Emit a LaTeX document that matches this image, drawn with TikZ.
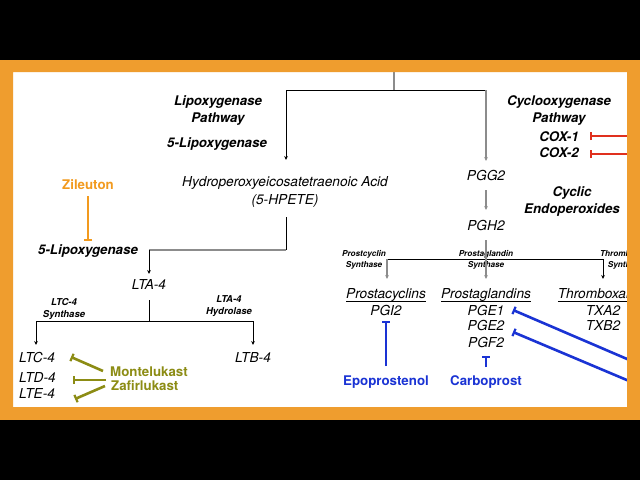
\documentclass[tikz,border=0pt]{standalone}
\usepackage{fontspec}
\setmainfont{TeX Gyre Heros}
\usetikzlibrary{arrows.meta}
\definecolor{frameor}{HTML}{EF9D2E}
\definecolor{zilor}{HTML}{F29A1E}
\definecolor{coxred}{HTML}{E0301E}
\definecolor{drugblue}{HTML}{1A33D4}
\definecolor{olivedrug}{HTML}{8C8C14}
\definecolor{lgray}{HTML}{8C8C8C}
\newcommand{\ulx}[1]{\underline{\raisebox{0pt}[\height][1.3pt]{#1}}}
\begin{document}
\begin{tikzpicture}[x=1pt,y=-1pt,
  hd/.style={font=\bfseries\itshape\fontsize{13.3}{16}\selectfont, anchor=base, inner sep=0pt},
  chem/.style={font=\itshape\fontsize{13.7}{16}\selectfont, anchor=base, inner sep=0pt},
  enz/.style={font=\bfseries\itshape\fontsize{9.5}{11}\selectfont, anchor=base, inner sep=0pt},
  enzs/.style={font=\bfseries\itshape\fontsize{8.2}{10}\selectfont, anchor=base, inner sep=0pt},
  drug/.style={font=\bfseries\fontsize{13.3}{16}\selectfont, anchor=base, inner sep=0pt},
  ln/.style={line width=0.9pt, draw=black},
  gln/.style={line width=1.3pt, draw=lgray},
  arr/.style={-{Stealth[length=4pt,width=3.6pt]}},
  inh/.style={-{Bar[width=8pt,line width=2.2pt]}, line width=2.6pt}
]
\useasboundingbox (0,0) rectangle (640,480);
\fill[white] (0,0) rectangle (640,480);

% ---------- text nodes ----------
\node[hd] (lipoA) at (218,105.8) {Lipoxygenase};
\node[hd] (lipoB) at (218,122.5) {Pathway};
\node[hd] (loxA) at (217,147.7) {5-Lipoxygenase};
\node[chem] (hpeteA) at (285,186.5) {Hydroperoxyeicosatetraenoic Acid};
\node[chem] (hpeteB) at (285,204.3) {(5-HPETE)};
\node[drug, text=zilor] (zil) at (88,189.5) {Zileuton};
\node[hd] (loxB) at (88,254) {5-Lipoxygenase};
\node[chem] (lta4) at (149,289.5) {LTA-4};
\node[enz] (ltcsA) at (64,305.4) {LTC-4};
\node[enz] (ltcsB) at (64,317) {Synthase};
\node[enz] (ltahA) at (229,302.7) {LTA-4};
\node[enz] (ltahB) at (229,314.5) {Hydrolase};
\node[chem, anchor=base west] (ltc4) at (19,362.7) {LTC-4};
\node[chem, anchor=base west] (ltd4) at (19,382.7) {LTD-4};
\node[chem, anchor=base west] (lte4) at (19,398.7) {LTE-4};
\node[chem] (ltb4) at (253,362.7) {LTB-4};
\node[drug, text=olivedrug, anchor=base west] (monte) at (110,376) {Montelukast};
\node[drug, text=olivedrug, anchor=base west] (zafir) at (111,390.7) {Zafirlukast};

\node[hd] (coxA) at (559,105.8) {Cyclooxygenase};
\node[hd] (coxB) at (559,122.5) {Pathway};
\node[hd] (cox1) at (559,141) {COX-1};
\node[hd] (cox2) at (559,157.7) {COX-2};
\node[chem] (pgg2) at (486,180.3) {PGG2};
\node[chem] (pgh2) at (486,230.3) {PGH2};
\node[hd] (cycA) at (572,196.7) {Cyclic};
\node[hd] (cycB) at (572,213.3) {Endoperoxides};

\node[enzs] (pcsA) at (364,256.7) {Prostcyclin};
\node[enzs] (pcsB) at (364,267.3) {Synthase};
\node[enzs] (pgsA) at (486,256.7) {Prostaglandin};
\node[enzs] (pgsB) at (486,267.3) {Synthase};
\node[enzs] (txsA) at (627,256.7) {Thromboxane};
\node[enzs] (txsB) at (626,267.3) {Synthase};

\node[chem] (pcyc) at (386,298.3) {\ulx{Prostacyclins}};
\node[chem] (pgi2) at (386,315) {PGI2};
\node[chem] (pgl) at (486,298.3) {\ulx{Prostaglandins}};
\node[chem] (pge1) at (486,315) {PGE1};
\node[chem] (pge2) at (486,330.7) {PGE2};
\node[chem] (pgf2) at (486,347.3) {PGF2};
\node[chem] (txs) at (603,298.3) {\ulx{Thromboxanes}};
\node[chem] (txa2) at (603,315) {TXA2};
\node[chem] (txb2) at (603,330.7) {TXB2};
\node[drug, text=drugblue] (epo) at (386,385.7) {Epoprostenol};
\node[drug, text=drugblue] (carbo) at (486,385.7) {Carboprost};

% ---------- junction coordinates ----------
\coordinate (top) at (394,60);
\coordinate (jtop) at (394,90);
\coordinate (jl) at (286,90);
\coordinate (jr) at (486,90);
\coordinate (jlend) at (286,160);
\coordinate (jrend) at (486,161);
\coordinate (pggout) at (486,190);
\coordinate (pghin) at (486,210);
\coordinate (pghout) at (486,240);
\coordinate (jpg) at (486,259);
\coordinate (jpc) at (387,259);
\coordinate (jtx) at (603,259);
\coordinate (pcin) at (387,279);
\coordinate (pgin) at (486,279);
\coordinate (txin) at (603,279);
\coordinate (hpout) at (286,217);
\coordinate (jh) at (286,250);
\coordinate (jlt) at (149,250);
\coordinate (ltain) at (149,274);
\coordinate (ltaout) at (149,300);
\coordinate (jlta) at (149,321);
\coordinate (jltc) at (36,321);
\coordinate (jltb) at (253,321);
\coordinate (ltcin) at (36,345);
\coordinate (ltbin) at (253,345);

% ---------- connectors ----------
\draw[gln] (top) -- (jtop);
\draw[ln] (jl) -- (jr);
\draw[ln, arr] (jl) -- (jlend);
\draw[gln, arr] (jr) -- (jrend);
\draw[gln, arr] (pggout) -- (pghin);
\draw[gln] (pghout) -- (jpg);
\draw[ln] (jpc) -- (jtx);
\draw[gln, arr] (jpc) -- (pcin);
\draw[gln, arr] (jpg) -- (pgin);
\draw[ln, arr] (jtx) -- (txin);
\draw[ln] (hpout) -- (jh);
\draw[gln] (jh) -- (jlt);
\draw[ln, arr] (jlt) -- (ltain);
\draw[ln] (ltaout) -- (jlta);
\draw[ln] (jltc) -- (jltb);
\draw[ln, arr] (jltc) -- (ltcin);
\draw[ln, arr] (jltb) -- (ltbin);

% ---------- inhibitor lines ----------
\coordinate (zilA) at (88,196);
\coordinate (zilB) at (88,241);
\draw[inh, draw=zilor, line width=2pt] (zilA) -- (zilB);
\coordinate (c1s) at (640,136);
\coordinate (c1e) at (590,136);
\coordinate (c2s) at (640,154);
\coordinate (c2e) at (590,154);
\draw[inh, draw=coxred, line width=2.4pt] (c1s) -- (c1e);
\draw[inh, draw=coxred, line width=2.4pt] (c2s) -- (c2e);
\coordinate (epoA) at (386,366);
\coordinate (epoB) at (386,321);
\draw[inh, draw=drugblue, line width=2.8pt] (epoA) -- (epoB);
\coordinate (carA) at (486,367);
\coordinate (carB) at (486,356);
\draw[inh, draw=drugblue, line width=2.8pt] (carA) -- (carB);
\coordinate (b1s) at (645,366.7);
\coordinate (b1e) at (513,310);
\coordinate (b2s) at (645,387.7);
\coordinate (b2e) at (513,332);
\draw[inh, draw=drugblue, line width=2.6pt] (b1s) -- (b1e);
\draw[inh, draw=drugblue, line width=2.6pt] (b2s) -- (b2e);
\coordinate (o1s) at (103,371);
\coordinate (o1e) at (71,357);
\coordinate (o2s) at (106,380);
\coordinate (o2e) at (73,380);
\coordinate (o3s) at (105,386);
\coordinate (o3e) at (75,399);
\draw[inh, draw=olivedrug, line width=2.6pt] (o1s) -- (o1e);
\draw[inh, draw=olivedrug, line width=2.6pt] (o2s) -- (o2e);
\draw[inh, draw=olivedrug, line width=2.6pt] (o3s) -- (o3e);

% ---------- frame ----------
\fill[frameor, even odd rule] (0,60) rectangle (640,420) (13,72) rectangle (627,407);
\fill[black] (0,0) rectangle (640,60);
\fill[black] (0,420) rectangle (640,480);
\end{tikzpicture}
\end{document}
